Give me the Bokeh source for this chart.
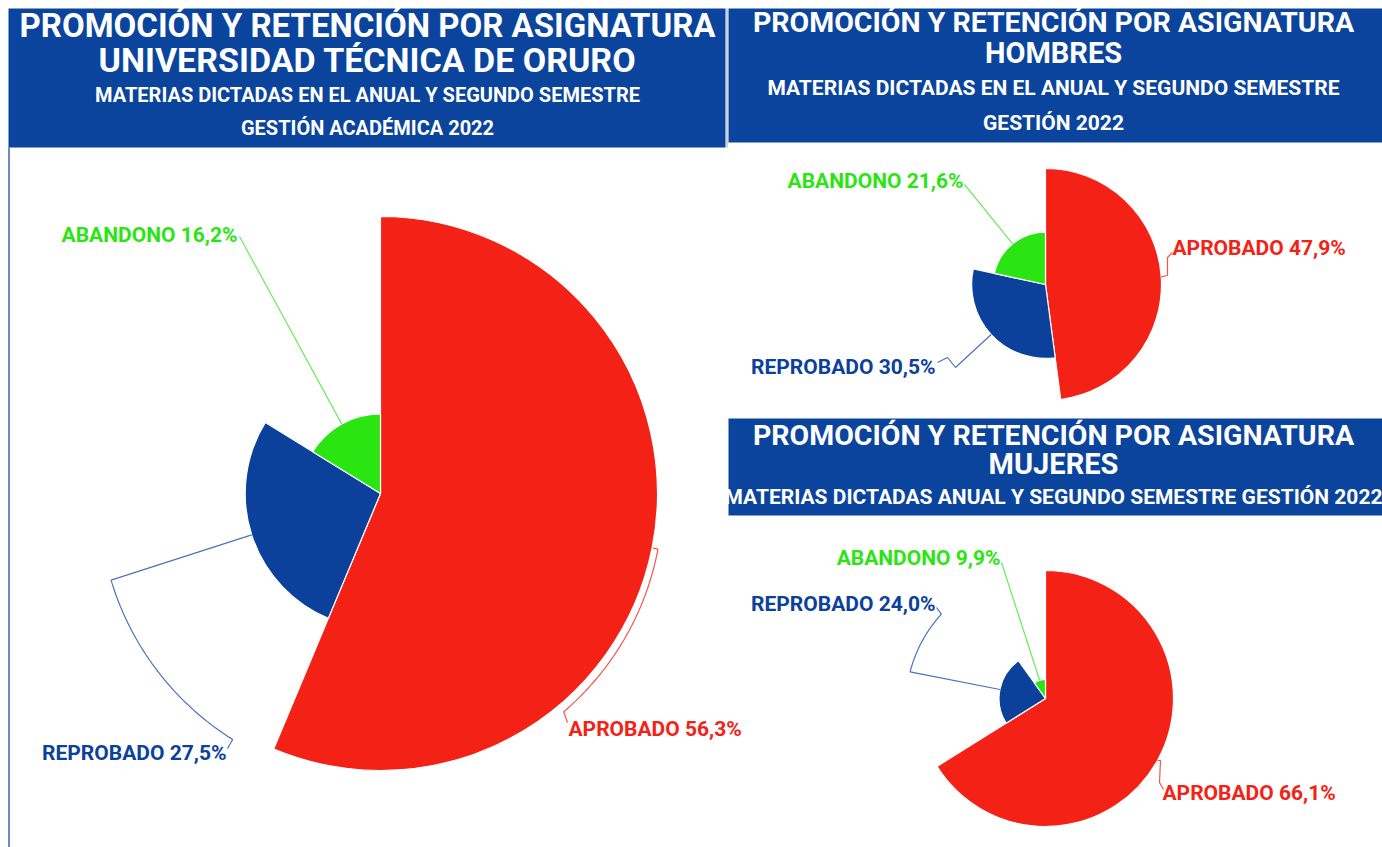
import numpy as np
from bokeh.plotting import figure
from bokeh.models import Range1d
from bokeh.core.properties import value
from bokeh.embed import file_html
from bokeh.resources import INLINE

# ---------------- data ----------------
categories = ["APROBADO", "REPROBADO", "ABANDONO"]
total_pct = [56.3, 27.5, 16.2]
hombres_pct = [47.9, 30.5, 21.6]
mujeres_pct = [66.1, 24.0, 9.9]
slice_colors = ["#F42116", "#0B419B", "#2AE512"]
line_colors = ["#F5554D", "#4C72B8", "#6CEB5C"]

header_main = ["PROMOCIÓN Y RETENCIÓN POR ASIGNATURA", "UNIVERSIDAD TÉCNICA DE ORURO",
               "MATERIAS DICTADAS EN EL ANUAL Y SEGUNDO SEMESTRE", "GESTIÓN ACADÉMICA 2022"]
header_h = ["PROMOCIÓN Y RETENCIÓN POR ASIGNATURA", "HOMBRES",
            "MATERIAS DICTADAS EN EL ANUAL Y SEGUNDO SEMESTRE", "GESTIÓN 2022"]
header_m = ["PROMOCIÓN Y RETENCIÓN POR ASIGNATURA", "MUJERES",
            "MATERIAS DICTADAS ANUAL Y SEGUNDO SEMESTRE GESTIÓN 2022"]

HEADER_BLUE = "#0B449C"
FONT = value("Roboto")

W, H = 1382, 847
p = figure(width=W, height=H, x_range=Range1d(0, W), y_range=Range1d(0, H),
           output_backend="svg", toolbar_location=None, min_border=0,
           x_axis_location=None, y_axis_location=None)
p.grid.visible = False
p.outline_line_color = None
p.background_fill_color = "white"
p.border_fill_color = "white"


def S(X, Y):
    """page pixel position -> data position"""
    return X, H - Y


# ---------------- headers ----------------
def header_box(x0, y0, x1, y1):
    a, b = S(x0, y0)
    c, d = S(x1, y1)
    p.quad(left=[a], right=[c], top=[b], bottom=[d], fill_color=HEADER_BLUE, line_color=None)


def header_text(lines, cx, ys, sizes):
    for t, yy, sz in zip(lines, ys, sizes):
        x, y = S(cx, yy)
        p.text(x=[x], y=[y], text=[t], text_align="center", text_baseline="middle",
               text_font=FONT, text_font_style="bold", text_font_size=f"{sz}px",
               text_color="white")


header_box(8, 8, 725, 147)
header_box(728, 8, 1382, 142)
header_box(728, 418, 1382, 515)
# thin panel borders
bx0, by0 = S(8.5, 147)
bx1, by1 = S(8.5, 847)
p.line(x=[bx0, bx1], y=[by0, by1], line_color="#3C64B0", line_width=1.5)
gx0, gy0 = S(726.5, 8)
gx1, gy1 = S(726.5, 147)
p.line(x=[gx0, gx1], y=[gy0, gy1], line_color="#9AA6BC", line_width=1)

header_text(header_main, 367, [25, 59, 94, 127], [33, 34, 20, 20])
header_text(header_h, 1053, [22, 52, 87, 122], [28.5, 29, 21, 21])
header_text(header_m, 1053, [435, 463, 496], [28.5, 29, 21])


# ---------------- pies ----------------
def polar(cx, cy, th, r):
    return cx + r * np.sin(th), cy + r * np.cos(th)


def draw_pie(vals, center, rmax):
    cx, cy = S(*center)
    v = np.array(vals, dtype=float)
    frac = v / v.sum()
    ends = np.cumsum(frac) * 2 * np.pi
    starts = ends - frac * 2 * np.pi
    radii = rmax * v / v.max()
    p.wedge(x=[cx] * len(v), y=[cy] * len(v), radius=list(radii),
            start_angle=list(np.pi / 2 - ends), end_angle=list(np.pi / 2 - starts),
            fill_color=slice_colors, line_color="white", line_width=1.2)
    return cx, cy, radii, (starts + ends) / 2


def label(i, vals, X, Y, align):
    txt = f"{categories[i]} {vals[i]:.1f}%".replace(".", ",")
    x, y = S(X, Y)
    p.text(x=[x], y=[y], text=[txt], text_align=align, text_baseline="middle",
           text_font=FONT, text_font_style="bold", text_font_size="21px",
           text_color=slice_colors[i])


def connector(i, pts):
    xs = [q[0] for q in pts]
    ys = [q[1] for q in pts]
    p.line(x=xs, y=ys, line_color=line_colors[i], line_width=1.2)


def arc_pts(cx, cy, th0, th1, r0, r1, n=60):
    th = np.linspace(th0, th1, n)
    rr = np.linspace(r0, r1, n)
    return [polar(cx, cy, t, r) for t, r in zip(th, rr)]


D = np.deg2rad

# --- main pie (total) ---
cx, cy, rad, mid = draw_pie(total_pct, (380, 493), 277)
R = rad[0]
# APROBADO
pts = [polar(cx, cy, mid[0], R + 1), polar(cx, cy, mid[0], R + 6)]
pts += arc_pts(cx, cy, mid[0], D(140), R + 6, R + 8)
pts += [S(567, 722)]
connector(0, pts)
label(0, total_pct, 568, 728, "left")
# REPROBADO
pts = [polar(cx, cy, mid[1], rad[1]), polar(cx, cy, mid[1], R + 6)]
pts += arc_pts(cx, cy, mid[1], D(211), R + 6, R + 10)
pts += [S(227, 748)]
connector(1, pts)
label(1, total_pct, 226, 752, "right")
# ABANDONO
pts = [polar(cx, cy, mid[2], rad[2]), S(239, 236)]
connector(2, pts)
label(2, total_pct, 237, 234, "right")

# --- hombres ---
cx, cy, rad, mid = draw_pie(hombres_pct, (1045, 284), 116)
pts = [polar(cx, cy, mid[0], rad[0]), S(1167, 275), S(1167, 257), S(1172, 252)]
connector(0, pts)
label(0, hombres_pct, 1172, 247, "left")
pts = [polar(cx, cy, mid[1], rad[1]), S(955, 367), S(947, 357), S(937, 362)]
connector(1, pts)
label(1, hombres_pct, 935, 366, "right")
pts = [polar(cx, cy, mid[2], rad[2]), S(964, 184)]
connector(2, pts)
label(2, hombres_pct, 963, 180, "right")

# --- mujeres ---
cx, cy, rad, mid = draw_pie(mujeres_pct, (1045, 698), 128)
pts = [polar(cx, cy, mid[0], rad[0]), S(1160, 760), S(1159, 782), S(1163, 789)]
connector(0, pts)
label(0, mujeres_pct, 1162, 792, "left")
pts = [polar(cx, cy, mid[1], rad[1]), polar(cx, cy, mid[1], 138)]
pts += arc_pts(cx, cy, mid[1], D(309), 138, 134)
pts += [S(936, 607)]
connector(1, pts)
label(1, mujeres_pct, 935, 603, "right")
pts = [polar(cx, cy, mid[2], rad[2]), S(1001, 562)]
connector(2, pts)
label(2, mujeres_pct, 1000, 557, "right")

open("out.html", "w").write(file_html(p, INLINE))
